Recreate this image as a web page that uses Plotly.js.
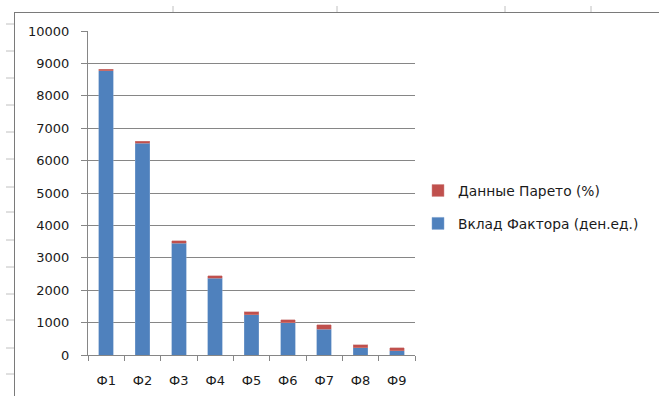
<!DOCTYPE html>
<html>
<head>
<meta charset="utf-8">
<script src="https://cdn.plot.ly/plotly-3.0.1.min.js"></script>
<style>
html,body{margin:0;padding:0;background:#fff;}
#wrap{position:relative;width:659px;height:396px;overflow:hidden;}
#chart{width:659px;height:396px;}
#frame{position:absolute;left:14px;top:12px;width:700px;height:400px;
       border-top:1px solid #7a7a7a;border-left:1px solid #7a7a7a;pointer-events:none;}
</style>
</head>
<body>
<div id="wrap">
<div id="chart"></div>
<div id="frame"></div>
</div>
<script>
// Data
const categories = ["Ф1","Ф2","Ф3","Ф4","Ф5","Ф6","Ф7","Ф8","Ф9"];
const factorContribution = [8775, 6530, 3445, 2365, 1245, 995, 790, 220, 135];
const paretoData = [40, 70, 80, 85, 90, 95, 140, 95, 85];
const seriesNames = ["Вклад Фактора (ден.ед.)", "Данные Парето (%)"];
const yTicks = [0,1000,2000,3000,4000,5000,6000,7000,8000,9000,10000];
const yTickText = ["0","1000","2000","3000","4000","5000","6000","7000","8000","9000","10000"];

// plot-area geometry in pixels (for page decorations only)
const L = 88, R = 415, T = 31, B = 355;
const W = R - L, H = B - T;
const px = x => (x - L) / W;
const py = y => (B - y) / H;

const shapes = [];
// ruler-like tick marks on the page frame
[24,51,78,105,132,159,187,212,240,267,294,320,348,374].forEach(y=>{
  shapes.push({type:"line", xref:"paper", yref:"paper", x0:px(6), x1:px(14.5), y0:py(y), y1:py(y), line:{color:"#c0c0c0", width:1}});
});
[173,337,505,591].forEach(x=>{
  shapes.push({type:"line", xref:"paper", yref:"paper", x0:px(x), x1:px(x), y0:py(6), y1:py(12.5), line:{color:"#c0c0c0", width:1}});
});

const font = "DejaVu Sans, Verdana, sans-serif";

const traces = [
  {type:"bar", x:categories, y:factorContribution, name:seriesNames[0], legendgroup:"g2", legendrank:2,
   marker:{color:"#4F81BD", line:{color:"#7fa3d0", width:0.5}}},
  {type:"bar", x:categories, y:paretoData, name:seriesNames[1], legendgroup:"g1", legendrank:1,
   marker:{color:"#C0504D", line:{color:"#d08a88", width:0.5}}}
];

const layout = {
  width:659, height:396,
  margin:{l:L, r:659-R, t:T, b:396-B, pad:0},
  paper_bgcolor:"#fff", plot_bgcolor:"#fff",
  barmode:"stack", bargap:0.6,
  font:{family:font, size:12, color:"#1a1a1a"},
  showlegend:true,
  legend:{x:px(418), xanchor:"left", y:py(207), yanchor:"middle",
          traceorder:"grouped", tracegroupgap:12,
          font:{family:font, size:13.8, color:"#1a1a1a"}, bgcolor:"rgba(0,0,0,0)"},
  xaxis:{type:"category", showline:true, linecolor:"#868686", linewidth:1,
         ticks:"outside", tickson:"boundaries", ticklen:5, tickcolor:"#868686",
         ticklabelstandoff:13, tickfont:{family:font, size:13}, showgrid:false, fixedrange:true},
  yaxis:{range:[0,10000], tickvals:yTicks, ticktext:yTickText, showline:true, linecolor:"#868686", linewidth:1,
         ticks:"outside", ticklen:6, tickcolor:"#868686", showgrid:true, gridcolor:"#868686",
         gridwidth:1, zeroline:false, ticklabelstandoff:9,
         tickfont:{family:font, size:13}, fixedrange:true},
  shapes:shapes
};

Plotly.newPlot("chart", traces, layout, {staticPlot:true, displayModeBar:false});
</script>
</body>
</html>
